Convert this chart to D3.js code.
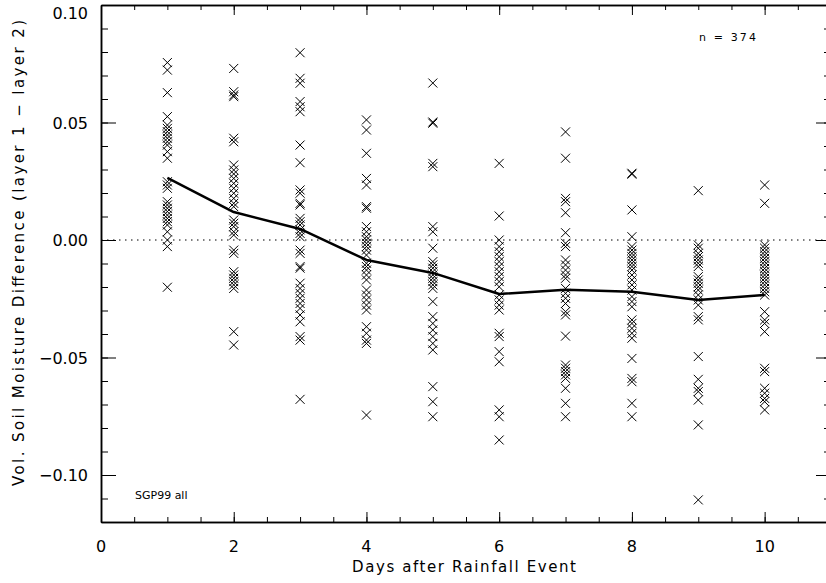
<!DOCTYPE html>
<html>
<head>
<meta charset="utf-8">
<script src="https://cdn.jsdelivr.net/npm/d3@7"></script>
<style>
  body { margin: 0; background: #fff; }
  text { font-family: "DejaVu Sans", sans-serif; fill: #000; }
</style>
</head>
<body>
<div id="graph"></div>
<script>
// days after rainfall
var days = [1, 2, 3, 4, 5, 6, 7, 8, 9, 10];

// mean difference per day (the solid line)
var means = [0.0264, 0.0119, 0.0047, -0.0085, -0.0140, -0.0230, -0.0212, -0.0220, -0.0255, -0.0234];

// individual samples, one list per day
var day1 = [0.0755, 0.0723, 0.0627, 0.0525, 0.0489, 0.0475, 0.0461, 0.0447, 0.0433, 0.0418, 0.0404, 0.0376, 0.0348,
  0.0248, 0.0234, 0.0220, 0.0163, 0.0149, 0.0135, 0.0121, 0.0106, 0.0092, 0.0078, 0.0064, 0.0035, 0.0000, -0.0028, -0.0201];
var day2 = [0.0730, 0.0631, 0.0617, 0.0610, 0.0433, 0.0418, 0.0319, 0.0298, 0.0281, 0.0262, 0.0241, 0.0220, 0.0199,
  0.0177, 0.0156, 0.0142, 0.0085, 0.0071, 0.0057, 0.0035, 0.0021, -0.0043, -0.0057, -0.0135, -0.0149, -0.0163,
  -0.0177, -0.0191, -0.0206, -0.0390, -0.0447];
var day3 = [0.0797, 0.0688, 0.0667, 0.0589, 0.0567, 0.0546, 0.0404, 0.0329, 0.0213, 0.0199, 0.0156, 0.0149, 0.0092,
  0.0078, 0.0064, 0.0043, 0.0028, 0.0014, -0.0043, -0.0057, -0.0113, -0.0120, -0.0184, -0.0206, -0.0227, -0.0248,
  -0.0270, -0.0291, -0.0319, -0.0348, -0.0411, -0.0426, -0.0678];
var day4 = [0.0511, 0.0468, 0.0369, 0.0262, 0.0234, 0.0142, 0.0135, 0.0057, 0.0035, 0.0014, 0.0000, -0.0014, -0.0028,
  -0.0043, -0.0064, -0.0099, -0.0113, -0.0128, -0.0149, -0.0170, -0.0213, -0.0234, -0.0255, -0.0277, -0.0298,
  -0.0369, -0.0397, -0.0426, -0.0440, -0.0745];
var day5 = [0.0668, 0.0502, 0.0497, 0.0326, 0.0312, 0.0057, 0.0035, -0.0035, -0.0092, -0.0106, -0.0120, -0.0135, -0.0149,
  -0.0163, -0.0177, -0.0191, -0.0206, -0.0262, -0.0326, -0.0355, -0.0383, -0.0411, -0.0440, -0.0468, -0.0624,
  -0.0688, -0.0752];
var day6 = [0.0326, 0.0102, 0.0000, -0.0028, -0.0050, -0.0071, -0.0092, -0.0113, -0.0135, -0.0156, -0.0177, -0.0199,
  -0.0234, -0.0255, -0.0277, -0.0298, -0.0397, -0.0411, -0.0475, -0.0518, -0.0723, -0.0752, -0.0851];
var day7 = [0.0460, 0.0348, 0.0177, 0.0163, 0.0116, 0.0031, -0.0014, -0.0028, -0.0085, -0.0106, -0.0128, -0.0149, -0.0163,
  -0.0206, -0.0227, -0.0248, -0.0270, -0.0305, -0.0319, -0.0409, -0.0532, -0.0546, -0.0560, -0.0574, -0.0589,
  -0.0631, -0.0695, -0.0752];
var day8 = [0.0284, 0.0280, 0.0128, 0.0014, -0.0028, -0.0043, -0.0057, -0.0071, -0.0085, -0.0099, -0.0113, -0.0128, -0.0149,
  -0.0170, -0.0191, -0.0213, -0.0241, -0.0262, -0.0284, -0.0340, -0.0355, -0.0376, -0.0397, -0.0418, -0.0504,
  -0.0589, -0.0603, -0.0695, -0.0752];
var day9 = [0.0210, -0.0021, -0.0035, -0.0057, -0.0071, -0.0085, -0.0099, -0.0113, -0.0156, -0.0170, -0.0184, -0.0199,
  -0.0213, -0.0234, -0.0255, -0.0277, -0.0326, -0.0340, -0.0496, -0.0593, -0.0631, -0.0645, -0.0681, -0.0787, -0.1106];
var day10 = [0.0234, 0.0156, -0.0021, -0.0035, -0.0050, -0.0064, -0.0078, -0.0092, -0.0106, -0.0121, -0.0135, -0.0149,
  -0.0163, -0.0177, -0.0191, -0.0206, -0.0220, -0.0234, -0.0305, -0.0340, -0.0355, -0.0390, -0.0546, -0.0560,
  -0.0631, -0.0652, -0.0674, -0.0688, -0.0723];

var xTicks = [0, 2, 4, 6, 8, 10];
var yTicks = [-0.10, -0.05, 0.00, 0.05, 0.10];

var width = 826, height = 583;
// plot box (right edge runs just past the window)
var pLeft = 101, pRight = 831, pTop = 5, pBottom = 522;

var x = d3.scaleLinear().domain([0, 11]).range([pLeft, pRight]);
var y = d3.scaleLinear().domain([-0.12, 0.10]).range([pBottom, pTop]);

var svg = d3.select('#graph').append('svg')
  .attr('width', width)
  .attr('height', height);

// all samples as {day, value}
var samples = [];
[day1, day2, day3, day4, day5, day6, day7, day8, day9, day10].forEach(function(list, i){
  list.forEach(function(v){ samples.push({day: days[i], value: v}); });
});

// zero reference line, dotted
svg.append('line')
  .attr('x1', x(0)).attr('x2', x(11))
  .attr('y1', y(0)).attr('y2', y(0))
  .attr('stroke', '#000')
  .attr('stroke-width', 1)
  .attr('stroke-dasharray', '1.5,4.5');

// crosses
var s = 4.5;
svg.append('g').selectAll('path')
  .data(samples)
  .enter()
  .append('path')
    .attr('d', function(d){
      var cx = x(d.day), cy = y(d.value);
      return 'M' + (cx - s) + ',' + (cy - s) + 'L' + (cx + s) + ',' + (cy + s) +
             'M' + (cx - s) + ',' + (cy + s) + 'L' + (cx + s) + ',' + (cy - s);
    })
    .attr('stroke', '#000')
    .attr('stroke-width', 1)
    .attr('fill', 'none');

// mean line
var line = d3.line()
  .x(function(d, i){ return x(days[i]); })
  .y(function(d){ return y(d); });

svg.append('path')
  .datum(means)
  .attr('d', line)
  .attr('fill', 'none')
  .attr('stroke', '#000')
  .attr('stroke-width', 2.5)
  .attr('stroke-linejoin', 'round');

// axes: ticks point inward, mirrored top and right
var xMinor = d3.range(0, 11.01, 0.5);
var yMinor = d3.range(-0.12, 0.1001, 0.01).map(function(v){ return Math.round(v * 1000) / 1000; });

function noText(a){ return a.tickFormat(function(){ return ''; }).tickSizeOuter(0); }

svg.append('g').attr('transform', 'translate(0,' + pBottom + ')')
  .call(noText(d3.axisTop(x).tickValues(xMinor).tickSizeInner(5)));
svg.append('g').attr('transform', 'translate(0,' + pBottom + ')')
  .call(noText(d3.axisTop(x).tickValues(xTicks).tickSizeInner(10)));
svg.append('g').attr('transform', 'translate(0,' + pTop + ')')
  .call(noText(d3.axisBottom(x).tickValues(xMinor).tickSizeInner(5)));
svg.append('g').attr('transform', 'translate(0,' + pTop + ')')
  .call(noText(d3.axisBottom(x).tickValues(xTicks).tickSizeInner(10)));

svg.append('g').attr('transform', 'translate(' + pLeft + ',0)')
  .call(noText(d3.axisRight(y).tickValues(yMinor).tickSizeInner(7)));
svg.append('g').attr('transform', 'translate(' + pLeft + ',0)')
  .call(noText(d3.axisRight(y).tickValues(yTicks).tickSizeInner(15)));
svg.append('g').attr('transform', 'translate(' + pRight + ',0)')
  .call(noText(d3.axisLeft(y).tickValues(yMinor).tickSizeInner(7)));
svg.append('g').attr('transform', 'translate(' + pRight + ',0)')
  .call(noText(d3.axisLeft(y).tickValues(yTicks).tickSizeInner(15)));

svg.selectAll('.domain').attr('stroke', '#000').attr('stroke-width', 1.5);
svg.selectAll('.tick line').attr('stroke', '#000').attr('stroke-width', 1);

// tick labels
svg.append('g').selectAll('text')
  .data(xTicks)
  .enter()
  .append('text')
    .attr('x', function(d){ return x(d); })
    .attr('y', pBottom + 30)
    .attr('text-anchor', 'middle')
    .style('font-size', '16px')
    .text(function(d){ return d; });

svg.append('g').selectAll('text')
  .data(yTicks)
  .enter()
  .append('text')
    .attr('x', pLeft - 13)
    .attr('y', function(d){ return Math.max(y(d) + 6, 19); })
    .attr('text-anchor', 'end')
    .style('font-size', '16px')
    .text(function(d){ return d3.format('.2f')(d).replace('-', '\u2212'); });

// axis titles
svg.append('text')
  .attr('x', x(5.5) - 2)
  .attr('y', 572)
  .attr('text-anchor', 'middle')
  .attr('textLength', 224)
  .attr('lengthAdjust', 'spacing')
  .style('font-size', '15px')
  .text('Days after Rainfall Event');

svg.append('text')
  .attr('transform', 'translate(24,' + 253 + ') rotate(-90)')
  .attr('text-anchor', 'middle')
  .attr('textLength', 466)
  .attr('lengthAdjust', 'spacing')
  .style('font-size', '15px')
  .text('Vol. Soil Moisture Difference (layer 1 \u2212 layer 2)');

// annotations
svg.append('text')
  .attr('x', 699).attr('y', 41)
  .attr('textLength', 57)
  .attr('lengthAdjust', 'spacing')
  .style('font-size', '11px')
  .text('n = 374');

svg.append('text')
  .attr('x', 135).attr('y', 499)
  .style('font-size', '11px')
  .text('SGP99 all');
</script>
</body>
</html>
